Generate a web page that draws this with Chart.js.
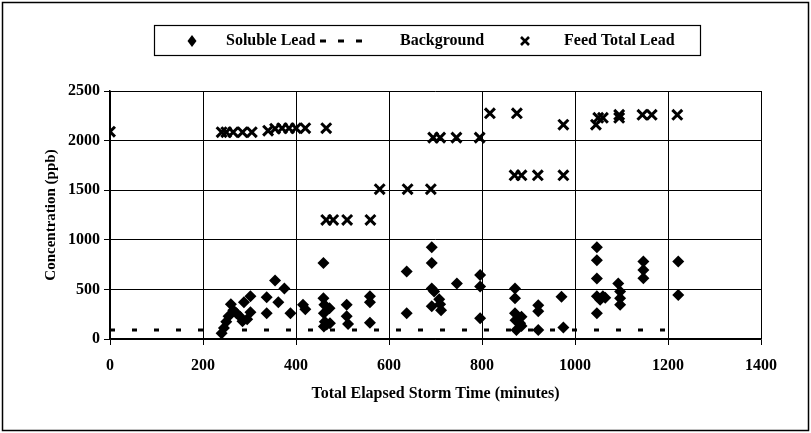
<!DOCTYPE html>
<html>
<head>
<meta charset="utf-8">
<style>
  html, body { margin: 0; padding: 0; background: #fff; }
  #wrap { width: 811px; height: 433px; }
</style>
<script src="https://cdn.jsdelivr.net/npm/chart.js@4.4.1/dist/chart.umd.min.js"></script>
</head>
<body>
<div id="wrap"><canvas id="c" width="811" height="433"></canvas></div>
<script>
// ---- Data ----
const solubleTimes = [240,245,250,255,260,265,272,280,285,288,295,302,302,337,337,355,362,375,388,415,420,
  459,459,461,460,462,460,472,473,466,509,509,512,559,559,559,638,638,
  692,692,692,697,692,708,710,712,746,796,796,796,
  871,871,871,872,874,885,885,882,921,921,921,971,975,
  1047,1047,1047,1047,1047,1054,1065,1060,1093,1097,1097,1097,1147,1147,1147,1222,1222];
const solubleValues = [57,110,175,230,350,290,260,225,180,370,200,430,270,420,260,590,370,510,260,345,300,
  765,410,345,260,175,125,310,160,145,345,230,150,430,370,165,680,260,
  925,765,510,480,330,400,350,290,560,645,530,210,
  510,410,260,190,90,225,130,160,340,280,90,427,115,
  925,795,610,430,260,395,415,430,560,480,410,345,780,695,612,780,444];

const backgroundTimes = [0, 1222];
const backgroundValues = [90, 90];

const feedTimes = [0,240,250,265,285,305,340,355,370,385,400,420,465,
  465,480,510,560,580,640,690,695,710,745,795,
  817,875,975,870,885,920,975,
  1045,1050,1060,1095,1095,1145,1165,1220];
const feedValues = [2090,2085,2085,2085,2085,2085,2100,2120,2125,2125,2125,2125,2125,
  1200,1200,1200,1200,1510,1510,1510,2030,2030,2030,2030,
  2275,2275,2160,1650,1650,1650,1650,
  2160,2230,2230,2230,2260,2260,2260,2260];

const xTicks = [0,200,400,600,800,1000,1200,1400];
const yTicks = [0,500,1000,1500,2000,2500];

const legendLabels = ['Soluble Lead', 'Background', 'Feed Total Lead'];
const xTitle = 'Total Elapsed Storm Time (minutes)';
const yTitle = 'Concentration (ppb)';

const pts = (xs, ys) => xs.map((x, i) => ({ x: x, y: ys[i] }));

const FONT = '"Liberation Serif", "Times New Roman", serif';

const frame = {
  id: 'frame',
  beforeDraw(chart) {
    const ctx = chart.ctx;
    ctx.save();
    ctx.fillStyle = '#fff';
    ctx.fillRect(0, 0, chart.width, chart.height);
    ctx.restore();
  },
  afterDraw(chart) {
    const ctx = chart.ctx;
    ctx.save();
    ctx.strokeStyle = '#000';
    ctx.lineWidth = 1.5;
    ctx.strokeRect(2.5, 2.5, chart.width - 5, chart.height - 5);
    // legend box
    ctx.lineWidth = 1.2;
    ctx.strokeRect(154.5, 25.5, 546, 30);
    const cy = 41;
    ctx.fillStyle = '#000';
    // diamond
    ctx.beginPath();
    ctx.moveTo(192, cy - 6); ctx.lineTo(196.5, cy); ctx.lineTo(192, cy + 6); ctx.lineTo(187.5, cy);
    ctx.closePath(); ctx.fill();
    // dashes
    ctx.lineWidth = 3;
    ctx.beginPath();
    [320, 338, 356].forEach(x => { ctx.moveTo(x, cy); ctx.lineTo(x + 6, cy); });
    ctx.stroke();
    // cross
    ctx.lineWidth = 2.6;
    ctx.beginPath();
    ctx.moveTo(521, cy - 4); ctx.lineTo(529, cy + 4);
    ctx.moveTo(529, cy - 4); ctx.lineTo(521, cy + 4);
    ctx.stroke();
    ctx.font = 'bold 16px ' + FONT;
    ctx.textBaseline = 'middle';
    ctx.textAlign = 'left';
    ctx.fillText(legendLabels[0], 226, cy);
    ctx.fillText(legendLabels[1], 400, cy);
    ctx.fillText(legendLabels[2], 564, cy);
    ctx.restore();
  }
};

new Chart(document.getElementById('c'), {
  type: 'scatter',
  data: {
    datasets: [
      {
        label: legendLabels[0],
        data: pts(solubleTimes, solubleValues),
        pointStyle: 'rectRot',
        pointRadius: 6,
        backgroundColor: '#000',
        borderColor: '#000',
        borderWidth: 0,
        order: 2
      },
      {
        label: legendLabels[1],
        data: pts(backgroundTimes, backgroundValues),
        showLine: true,
        pointRadius: 0,
        borderColor: '#000',
        borderWidth: 3,
        borderDash: [5, 17],
        order: 3
      },
      {
        label: legendLabels[2],
        data: pts(feedTimes, feedValues),
        pointStyle: 'crossRot',
        pointRadius: 7,
        borderColor: '#000',
        backgroundColor: '#000',
        borderWidth: 3,
        order: 1
      }
    ]
  },
  options: {
    responsive: false,
    animation: false,
    devicePixelRatio: 1,
    layout: { padding: { left: 0, top: 91, right: 50, bottom: 0 } },
    plugins: { legend: { display: false }, tooltip: { enabled: false } },
    scales: {
      x: {
        type: 'linear',
        min: 0, max: 1400,
        afterBuildTicks(scale) { scale.ticks = xTicks.map(v => ({ value: v })); },
        afterFit(scale) { scale.height = 94; },
        grid: { color: '#000', lineWidth: 1, tickLength: 6, drawTicks: true },
        border: { color: '#000', width: 1.5 },
        ticks: { color: '#000', font: { family: FONT, size: 16, weight: 'bold' }, padding: 11, maxRotation: 0,
                 callback: v => String(v) },
        title: { display: true, text: xTitle, color: '#000', font: { family: FONT, size: 16, weight: 'bold' }, padding: { top: 0, bottom: 30 } }
      },
      y: {
        type: 'linear',
        min: 0, max: 2500,
        afterBuildTicks(scale) { scale.ticks = yTicks.map(v => ({ value: v })); },
        afterFit(scale) { scale.width = 110; },
        grid: { color: '#000', lineWidth: 1, tickLength: 6, drawTicks: true },
        border: { color: '#000', width: 1.5 },
        ticks: { color: '#000', font: { family: FONT, size: 16, weight: 'bold' }, padding: 4,
                 callback: v => String(v) },
        title: { display: true, text: yTitle, color: '#000', font: { family: FONT, size: 15, weight: 'bold' }, padding: { top: 42, bottom: 0 } }
      }
    }
  },
  plugins: [frame]
});
</script>
</body>
</html>
